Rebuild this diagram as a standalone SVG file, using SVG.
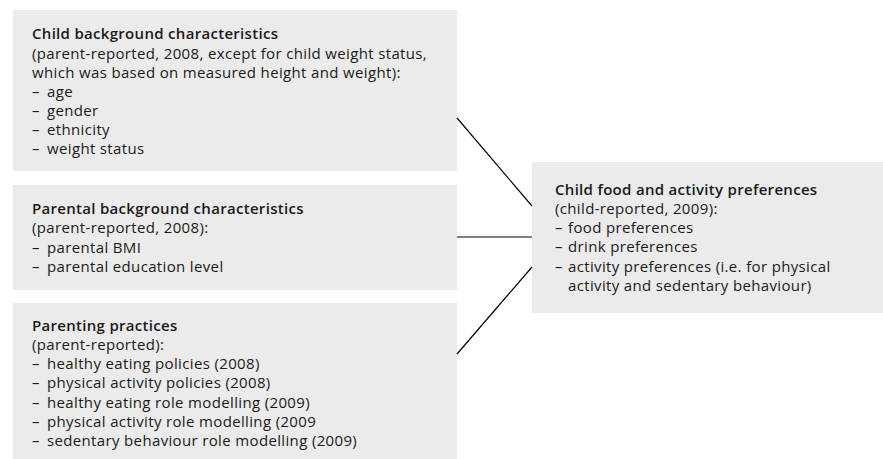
<svg xmlns="http://www.w3.org/2000/svg" width="883" height="459" viewBox="0 0 883 459">
<style>
.box{fill:#ebebeb}
text{font-family:"Open Sans","Liberation Sans",Arial,sans-serif;font-size:15px;letter-spacing:0.35px;fill:#1a1a1a}
.t{font-weight:600;letter-spacing:0.3px}
.c{stroke:#000;stroke-width:1.2;fill:none}
</style>
<rect width="883" height="459" fill="#fff"/>
<g id="child-background">
<rect class="box" x="13" y="10" width="444" height="161"/>
<text x="32" y="39" class="t">Child background characteristics</text>
<text x="32" y="59">(parent-reported, 2008, except for child weight status,</text>
<text x="32" y="78">which was based on measured height and weight):</text>
<text x="32" y="97">–<tspan x="47">age</tspan></text>
<text x="32" y="116">–<tspan x="47">gender</tspan></text>
<text x="32" y="135">–<tspan x="47">ethnicity</tspan></text>
<text x="32" y="154">–<tspan x="47">weight status</tspan></text>
</g>
<g id="parental-background">
<rect class="box" x="13" y="185" width="444" height="105"/>
<text x="32" y="214" class="t">Parental background characteristics</text>
<text x="32" y="233">(parent-reported, 2008):</text>
<text x="32" y="253">–<tspan x="47">parental BMI</tspan></text>
<text x="32" y="272">–<tspan x="47">parental education level</tspan></text>
</g>
<g id="parenting-practices">
<rect class="box" x="13" y="303" width="444" height="156"/>
<text x="32" y="331" class="t">Parenting practices</text>
<text x="32" y="350">(parent-reported):</text>
<text x="32" y="369">–<tspan x="47">healthy eating policies (2008)</tspan></text>
<text x="32" y="388">–<tspan x="47">physical activity policies (2008)</tspan></text>
<text x="32" y="408">–<tspan x="47">healthy eating role modelling (2009)</tspan></text>
<text x="32" y="427">–<tspan x="47">physical activity role modelling (2009</tspan></text>
<text x="32" y="446">–<tspan x="47">sedentary behaviour role modelling (2009)</tspan></text>
</g>
<g id="child-preferences">
<rect class="box" x="532" y="162" width="351" height="151"/>
<text x="555" y="195" class="t">Child food and activity preferences</text>
<text x="555" y="214">(child-reported, 2009):</text>
<text x="555" y="233">–<tspan x="568">food preferences</tspan></text>
<text x="555" y="252">–<tspan x="568">drink preferences</tspan></text>
<text x="555" y="272">–<tspan x="568">activity preferences (i.e. for physical</tspan></text>
<text x="568" y="291">activity and sedentary behaviour)</text>
</g>
<g id="connectors">
<line class="c" x1="457" y1="118" x2="532" y2="206"/>
<line class="c" x1="457" y1="237" x2="532" y2="237"/>
<line class="c" x1="532" y1="267" x2="457" y2="354"/>
</g>
</svg>
